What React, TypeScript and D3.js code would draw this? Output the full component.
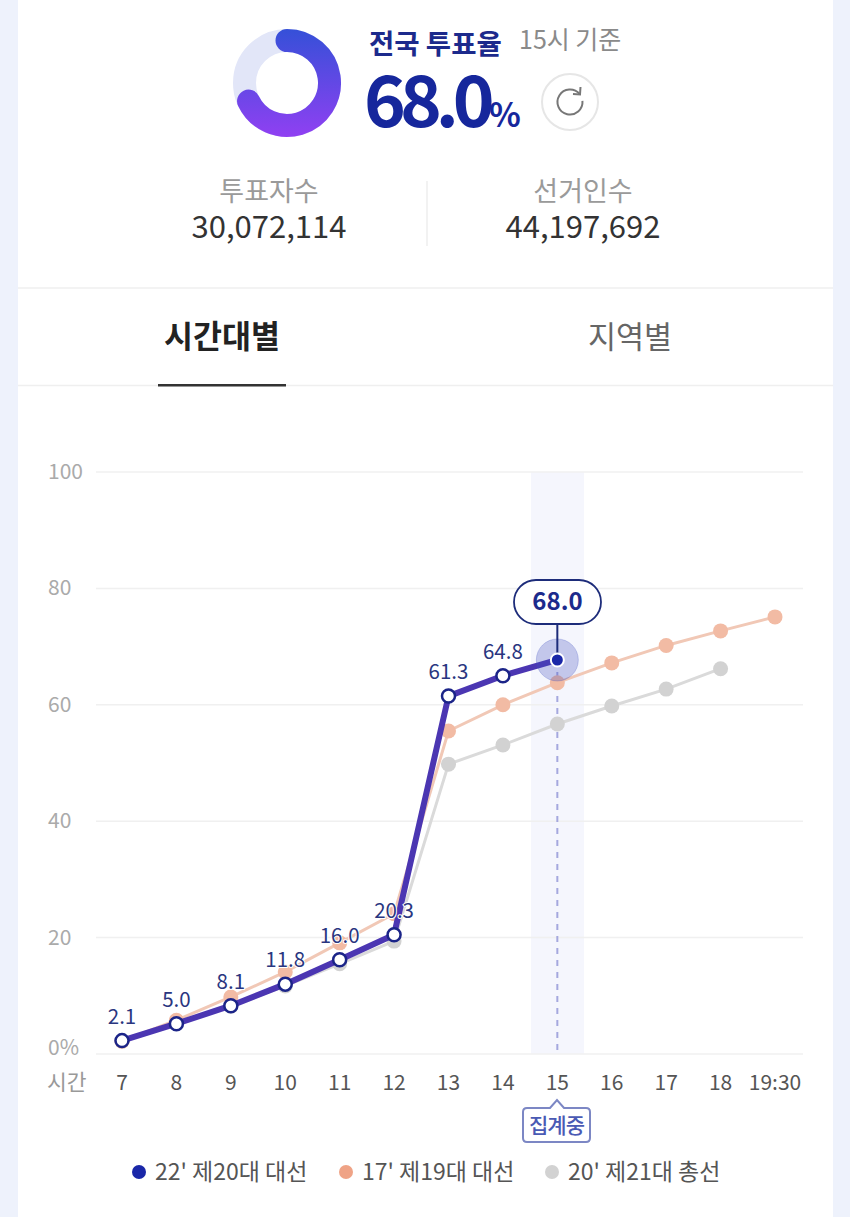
import React from 'react';
import * as d3 from 'd3';

const hours = ['7', '8', '9', '10', '11', '12', '13', '14', '15', '16', '17', '18', '19:30'];
const yTicks = [0, 20, 40, 60, 80, 100];

// plotted values (the marks sit a bit off their printed labels)
const turnout22 = [2.3, 5.2, 8.3, 12.0, 16.2, 20.5, 61.5, 65.0, 67.7];
const labels22 = ['2.1', '5.0', '8.1', '11.8', '16.0', '20.3', '61.3', '64.8'];
const turnout17 = [2.2, 5.8, 9.8, 14.1, 19.1, 24.1, 55.5, 60.0, 63.8, 67.2, 70.2, 72.7, 75.1];
const turnout20 = [2.2, 5.3, 8.2, 11.7, 15.5, 19.4, 49.8, 53.1, 56.7, 59.8, 62.7, 66.2];

const legendNames = ["22' 제20대 대선", "17' 제19대 대선", "20' 제21대 총선"];
const legendColors = ['#1a27a8', '#efa386', '#d2d2d2'];

const totalRate = 68.0;
const FONT = "'Noto Sans CJK KR', 'Noto Sans', sans-serif";

const x = d3.scalePoint<string>().domain(hours).range([122, 775]);
const y = d3.scaleLinear().domain([0, 100]).range([1054, 472]);

const line = d3
  .line<number>()
  .x((_, i) => x(hours[i]) as number)
  .y((d) => y(d));

// open arcs, d3.arc would close the shape and lose the round caps
const ringPath = d3.path();
ringPath.arc(0, 0, 42.5, -Math.PI / 2, -Math.PI / 2 + (totalRate / 100) * 2 * Math.PI);

const refreshPath = d3.path();
refreshPath.arc(0, 0, 12.5, (-40 * Math.PI) / 180, (-5 * Math.PI) / 180, true);

const Series = ({ values, lineColor, dotColor }: { values: number[]; lineColor: string; dotColor: string }) => (
  <g>
    <path d={line(values) as string} fill="none" stroke={lineColor} strokeWidth={3} />
    {values.map((v, i) => (
      <circle key={i} cx={x(hours[i])} cy={y(v)} r={7.5} fill={dotColor} />
    ))}
  </g>
);

export default function App() {
  const xNow = x('15') as number;
  const yNow = y(turnout22[8]);
  return (
    <svg
      width={850}
      height={1217}
      style={{ position: 'absolute', top: 0, left: 0, display: 'block' }}
      fontFamily={FONT}
    >
      <defs>
        <linearGradient id="ring" gradientUnits="userSpaceOnUse" x1={0} y1={-54} x2={0} y2={54}>
          <stop offset="0" stopColor="#3550d8" />
          <stop offset="1" stopColor="#9040f2" />
        </linearGradient>
      </defs>
      <rect width={850} height={1217} fill="#eef2fc" />
      <rect x={18} width={815} height={1217} fill="#fff" />

      {/* header */}
      <g transform="translate(287,83)">
        <circle r={42.5} fill="none" stroke="#e2e6f8" strokeWidth={23} />
        <path d={ringPath.toString()} fill="none" stroke="url(#ring)" strokeWidth={23} strokeLinecap="round" />
      </g>
      <text x={369} y={54} fontSize={27.5} fontWeight={700} fill="#1c2a8c">전국 투표율</text>
      <text x={519} y={49} fontSize={25} fill="#8a8a8a">15시 기준</text>
      <text x={364} y={127} fontSize={71} fontWeight={700} fill="#16279c" letterSpacing={-6}>
        {totalRate.toFixed(1)}
      </text>
      <text x={489} y={127} fontSize={33} fontWeight={700} fill="#16279c">%</text>
      <circle cx={570} cy={102} r={28} fill="#fff" stroke="#e6e6e6" strokeWidth={2} />
      <g transform="translate(570,102)" stroke="#777" fill="none" strokeWidth={2}>
        <path d={refreshPath.toString()} />
        <path d="M10.5,-15 L10,-7.5 L3,-8" />
      </g>

      {/* counts */}
      <text x={269} y={201} textAnchor="middle" fontSize={27} fill="#9a9a9a">투표자수</text>
      <text x={269} y={238} textAnchor="middle" fontSize={31} fill="#333">30,072,114</text>
      <line x1={427} x2={427} y1={181} y2={246} stroke="#eeeeee" strokeWidth={1.5} />
      <text x={583} y={201} textAnchor="middle" fontSize={27} fill="#9a9a9a">선거인수</text>
      <text x={583} y={238} textAnchor="middle" fontSize={31} fill="#333">44,197,692</text>

      {/* tabs */}
      <line x1={18} x2={833} y1={288} y2={288} stroke="#efefef" strokeWidth={1.5} />
      <line x1={18} x2={833} y1={385.5} y2={385.5} stroke="#efefef" strokeWidth={1.5} />
      <text x={222} y={348} textAnchor="middle" fontSize={31.5} fontWeight={700} fill="#222">시간대별</text>
      <text x={630} y={348} textAnchor="middle" fontSize={30.5} fill="#666">지역별</text>
      <rect x={158} y={384} width={128} height={2.5} fill="#333" />

      {/* chart */}
      <rect x={531} y={472} width={53} height={y(0) - 472} fill="#f5f6fd" />
      {yTicks.map((t) => (
        <g key={t}>
          <line x1={96} x2={803} y1={y(t)} y2={y(t)} stroke="#f0f0f0" strokeWidth={1.5} />
          <text x={48} y={t === 0 ? y(t) + 1 : y(t) + 7} fontSize={21} fill="#aaaaaa">
            {t === 0 ? '0%' : t}
          </text>
        </g>
      ))}
      <line x1={xNow} x2={xNow} y1={yNow} y2={y(0)} stroke="#a5a8de" strokeWidth={2} strokeDasharray="6 6" />

      <Series values={turnout20} lineColor="#dadada" dotColor="#d2d2d2" />
      <Series values={turnout17} lineColor="#f1c8b6" dotColor="#f2bba4" />

      <path d={line(turnout22) as string} fill="none" stroke="#4b36b2" strokeWidth={6} strokeLinejoin="round" />
      {labels22.map((l, i) => (
        <circle
          key={l}
          cx={x(hours[i])}
          cy={y(turnout22[i])}
          r={6.5}
          fill="#fff"
          stroke="#1b2488"
          strokeWidth={2.5}
        />
      ))}
      {labels22.map((l, i) => (
        <text
          key={l}
          x={x(hours[i])}
          y={y(turnout22[i]) - 17}
          textAnchor="middle"
          fontSize={20.5}
          fill="#2a3680"
          stroke="#fff"
          strokeWidth={2}
          paintOrder="stroke"
        >
          {l}
        </text>
      ))}

      {/* current point */}
      <circle cx={xNow} cy={yNow} r={21} fill="#3f50c0" fillOpacity={0.28} stroke="#3f50c0" strokeOpacity={0.25} />
      <line x1={xNow} x2={xNow} y1={624} y2={yNow} stroke="#1d2c7a" strokeWidth={2} />
      <circle cx={xNow} cy={yNow} r={6.5} fill="#1a27a8" stroke="#fff" strokeWidth={2} />
      <rect x={514} y={580} width={87} height={44} rx={22} fill="#fff" stroke="#1d2c7a" strokeWidth={1.8} />
      <text x={557.5} y={610} textAnchor="middle" fontSize={24} fontWeight={700} fill="#1c2a8c">
        {totalRate.toFixed(1)}
      </text>

      {/* x axis */}
      <text x={47} y={1090} fontSize={21.5} fill="#999">시간</text>
      {hours.map((h) => (
        <text key={h} x={x(h)} y={1090} textAnchor="middle" fontSize={21} fill="#555">
          {h}
        </text>
      ))}
      <path
        d="M527,1108 H550 L557,1100 L564,1108 H586 Q590,1108 590,1112 V1138 Q590,1142 586,1142 H527 Q523,1142 523,1138 V1112 Q523,1108 527,1108 Z"
        fill="#fff"
        stroke="#7c87c4"
        strokeWidth={2}
      />
      <text x={556.5} y={1133} textAnchor="middle" fontSize={21} fontWeight={500} fill="#4a5ab4" letterSpacing={-1}>
        집계중
      </text>

      {/* legend */}
      {legendNames.map((name, i) => {
        const lx = d3.scaleOrdinal<string, number>().domain(legendNames).range([139, 346, 552])(name);
        return (
          <g key={name}>
            <circle cx={lx} cy={1172} r={7} fill={legendColors[i]} />
            <text x={lx + 16} y={1180} fontSize={23} fill="#555">
              {name}
            </text>
          </g>
        );
      })}
    </svg>
  );
}
